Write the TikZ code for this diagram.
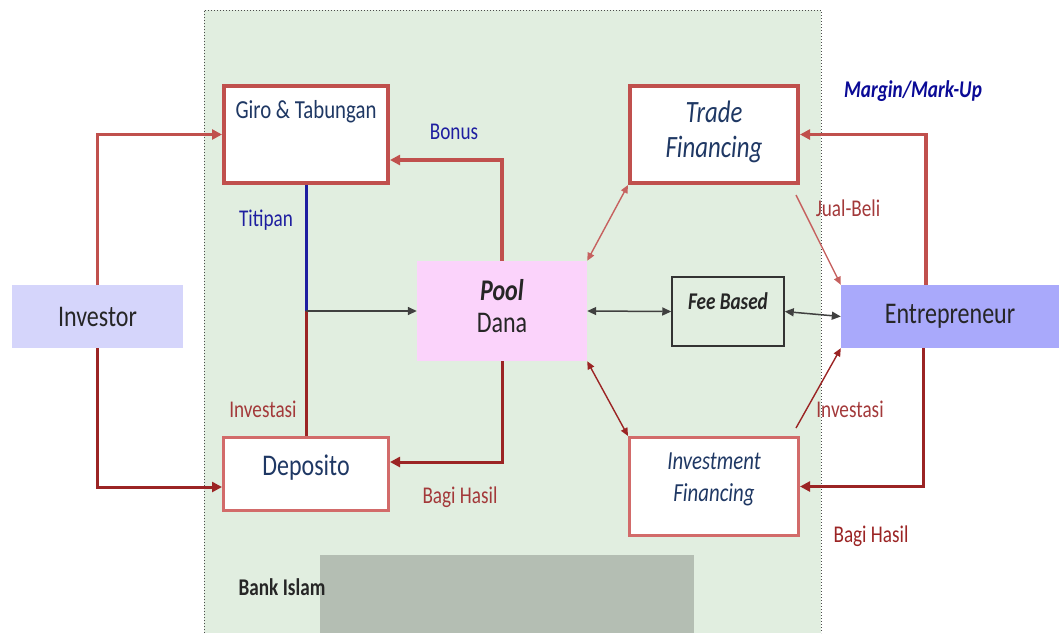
\documentclass[tikz,border=0pt]{standalone}
\usepackage{fontspec}
\setmainfont{Carlito}[FakeStretch=0.8]
\usetikzlibrary{arrows.meta,calc}

\definecolor{boxred}{HTML}{C0504D}
\definecolor{boxredlt}{HTML}{D26B6A}
\definecolor{darkred}{HTML}{9B2424}
\definecolor{navytext}{HTML}{1F3864}
\definecolor{labelblue}{HTML}{1E1EA0}
\definecolor{labelred}{HTML}{A3393A}
\definecolor{markblue}{HTML}{0A0A96}
\definecolor{bankgreen}{HTML}{E1EEE0}
\definecolor{investfill}{HTML}{D5D5FB}
\definecolor{entfill}{HTML}{A9A9FB}
\definecolor{poolfill}{HTML}{FBD3FB}
\definecolor{rectgray}{HTML}{B4BEB3}

\begin{document}
\begin{tikzpicture}[x=1pt,y=-1pt,>={Triangle[length=10pt,width=10pt]},
	redbox/.style={draw=boxred,line width=4pt,fill=white,text=navytext,align=center,inner sep=0pt},
	ltbox/.style={draw=boxredlt,line width=3pt,fill=white,text=navytext,align=center,inner sep=0pt},
	party/.style={minimum height=63pt,inner sep=0pt,text=black!85,font=\fontsize{30}{34}\selectfont},
	thickred/.style={->,draw=boxred,line width=3.5pt},
	thickdark/.style={->,draw=darkred,line width=3pt},
	thinred/.style={draw=boxred!90,line width=1.4pt,>={Triangle[length=8pt,width=7pt]}},
	thindark/.style={draw=darkred,line width=1.4pt,>={Triangle[length=8pt,width=7pt]}},
	blackarrow/.style={draw=black!75,line width=1.5pt,>={Triangle[length=9pt,width=8pt]}},
	lblblue/.style={inner sep=0pt,text=labelblue,font=\fontsize{24}{28}\selectfont},
	lblred/.style={inner sep=0pt,text=labelred,font=\fontsize{24}{28}\selectfont}]

	\useasboundingbox (0,0) rectangle (1059,633);
	% bank area
	\fill[bankgreen] (204,10) rectangle (821,633);
	\draw[dotted,black!70,line width=1pt] (204,633) -- (204,10) -- (821,10) -- (821,633);
	\fill[rectgray] (320,555) rectangle (694,633);

	\node[party,fill=investfill,minimum width=171pt] (inv) at (97.5,316.5) {Investor};
	\node[party,fill=entfill,minimum width=218pt] (ent) at (950,316.5) {Entrepreneur};

	\node[redbox,minimum width=164pt,minimum height=97pt,text height=18pt,text depth=51pt,
		font=\fontsize{26}{30}\selectfont] (giro) at (306,134.5) {Giro \& Tabungan};
	\node[redbox,minimum width=168pt,minimum height=97pt,text height=58pt,text depth=13pt,
		font=\fontsize{31}{35}\itshape] (trade) at (714,134.5) {Trade\\Financing};
	\node[fill=poolfill,minimum width=170pt,minimum height=100pt,inner sep=0pt,align=center,
		text height=54pt,text depth=12pt,
		font=\fontsize{30}{32}\selectfont,text=black!85] (pool) at (502,311) {\textbf{\textit{Pool}}\\Dana};
	\node[draw=black!80,line width=1.5pt,minimum width=112pt,minimum height=69pt,inner sep=0pt,
		text height=17pt,text depth=22pt,font=\fontsize{24}{28}\bfseries\itshape,text=black!85] (fee) at (728,311.5) {Fee Based};
	\node[ltbox,minimum width=165pt,minimum height=73pt,text height=19pt,text depth=17pt,
		font=\fontsize{30}{34}\selectfont] (depo) at (306,474) {Deposito};
	\node[ltbox,minimum width=169pt,minimum height=98pt,text height=52pt,text depth=23pt,
		font=\fontsize{26}{32}\itshape] (invf) at (714,486.5) {Investment\\Financing};

	% flows
	\draw[thickred] (inv.north) |- (giro.west);
	\draw[thickdark] (inv.south) |- ([yshift=-13pt]depo.west);
	\draw[thickred] (pool.north) |- ([yshift=-25.5pt]giro.east);
	\draw[thickdark] (pool.south) |- ([yshift=12pt]depo.east);
	\coordinate (tj) at (giro.south |- pool.west);
	\draw[draw=labelblue,line width=3pt] (giro.south) -- (tj);
	\draw[draw=darkred,line width=3pt] (tj) -- (depo.north);
	\draw[blackarrow,->] (tj) -- (pool.west);
	\draw[blackarrow,<->] (pool.east) -- (fee.west);
	\draw[blackarrow,<->] (fee.east) -- (ent.west);
	\draw[thinred,<->] (trade.south west) -- (pool.north east);
	\draw[thindark,<->] (pool.south east) -- (invf.north west);
	\draw[thickred] ([xshift=-24pt]ent.north) |- (trade.east);
	\draw[thickdark] ([xshift=-27pt]ent.south) |- (invf.east);
	\draw[thinred,->] ($(trade.south east)+(-4,10)$) -- (ent.north west);
	\draw[thindark,->] ($(invf.north east)+(-4,-8)$) -- (ent.south west);

	% labels
	\node[lblblue] (bonus) at (454,132) {Bonus};
	\node[lblblue] (titipan) at (266,220) {Titipan};
	\node[lblred] (investasi1) at (263,409) {Investasi};
	\node[lblred] (bagihasil1) at (460,497) {Bagi Hasil};
	\node[lblred] (jualbeli) at (848,208) {Jual-Beli};
	\node[lblred] (investasi2) at (850,409) {Investasi};
	\node[lblred,text=darkred] (bagihasil2) at (871,536) {Bagi Hasil};
	\node[inner sep=0pt,text=markblue,font=\fontsize{24}{28}\bfseries\itshape] (markup) at (913,91) {Margin/Mark-Up};
	\node[inner sep=0pt,text=black!85,font=\fontsize{24}{28}\bfseries] (bankname) at (282,587) {Bank Islam};
\end{tikzpicture}
\end{document}
